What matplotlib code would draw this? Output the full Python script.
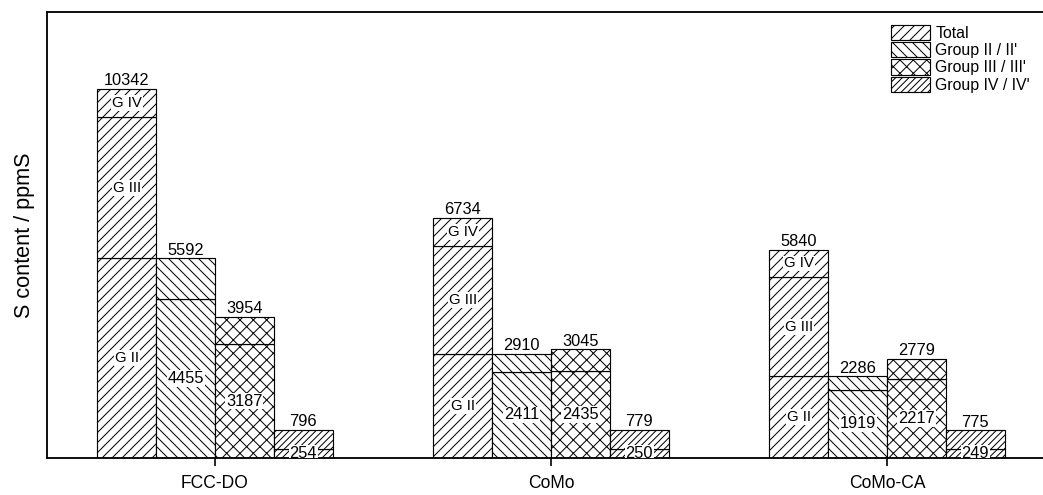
import matplotlib

matplotlib.use("Agg")
import matplotlib.pyplot as plt
import numpy as np
from matplotlib.patches import Patch

plt.rcParams["font.family"] = ["Liberation Sans", "DejaVu Sans"]
plt.rcParams["hatch.linewidth"] = 0.6
plt.rcParams["hatch.color"] = "black"

categories = ["FCC-DO", "CoMo", "CoMo-CA"]

# sulfur per group after each treatment (top of each group bar)
group2_total = [5592, 2910, 2286]
group3_total = [3954, 3045, 2779]
group4_total = [796, 779, 775]

# primed fractions (lower part of each group bar)
group2_part = [4455, 2411, 1919]
group3_part = [3187, 2435, 2217]
group4_part = [254, 250, 249]

total_segments = ["G II", "G III", "G IV"]
legend_labels = ["Total", "Group II / II'", "Group III / III'", "Group IV / IV'"]
hatches = ["////", "\\\\\\\\", "xxx", "//////"]

DPI = 120
fig = plt.figure(figsize=(1043 / DPI, 495 / DPI), dpi=DPI)
ax = fig.add_axes([47 / 1043, 37 / 495, 1008 / 1043, 446 / 495])

x = np.arange(len(categories))
w = 0.175
bar_kw = dict(width=w, color="white", edgecolor="black", linewidth=0.7)
white_box = dict(facecolor="white", edgecolor="none", pad=0.5)

# stacked total bar: G II + G III + G IV
g2 = np.array(group2_total)
g3 = np.array(group3_total)
g4 = np.array(group4_total)
xt = x - 1.5 * w
bottom = np.zeros(len(x))
for name, seg in zip(total_segments, [g2, g3, g4]):
    ax.bar(xt, seg, bottom=bottom, hatch=hatches[0], **bar_kw)
    for xi, b, s in zip(xt, bottom, seg):
        ax.text(xi, b + s / 2, name, ha="center", va="center", fontsize=9,
                bbox=white_box)
    bottom = bottom + seg
for xi, v in zip(xt, bottom):
    ax.annotate(f"{int(v)}", (xi, v), xytext=(0, 0.5), textcoords="offset points",
                ha="center", va="bottom", fontsize=9.8)

# group bars, split at the primed fraction
groups = [(group2_total, group2_part), (group3_total, group3_part),
          (group4_total, group4_part)]
for i, (tot, part) in enumerate(groups):
    xi = x + (i - 0.5) * w
    tot = np.array(tot)
    part = np.array(part)
    ax.bar(xi, part, hatch=hatches[i + 1], **bar_kw)
    ax.bar(xi, tot - part, bottom=part, hatch=hatches[i + 1], **bar_kw)
    for xx, p, t in zip(xi, part, tot):
        ax.text(xx, p / 2, f"{p}", ha="center", va="center", fontsize=9.8,
                bbox=white_box, clip_on=True)
        ax.annotate(f"{t}", (xx, t), xytext=(0, 0.5), textcoords="offset points",
                    ha="center", va="bottom", fontsize=9.8)

ax.set_xlim(-0.5, 2.5)
ax.set_ylim(0, 12500)
ax.set_xticks(x)
ax.set_xticklabels(categories, fontsize=10.5)
ax.set_yticks([])
ax.tick_params(axis="x", direction="out", length=4.5, width=1.0, pad=6)
ax.set_ylabel("S content / ppmS", fontsize=13, labelpad=7)

ax.spines["right"].set_visible(False)
for side in ["left", "top", "bottom"]:
    ax.spines[side].set_linewidth(1.1)

handles = [Patch(facecolor="white", edgecolor="black", linewidth=0.7, hatch=h)
           for h in hatches]
fig.legend(handles, legend_labels, loc="upper left",
           bbox_to_anchor=(891 / 1043, 1 - 25 / 495), frameon=False,
           fontsize=9.5, handlelength=2.45, handleheight=1.1,
           labelspacing=0.08, handletextpad=0.35, borderpad=0, borderaxespad=0)

fig.savefig("out.png", dpi=DPI)
